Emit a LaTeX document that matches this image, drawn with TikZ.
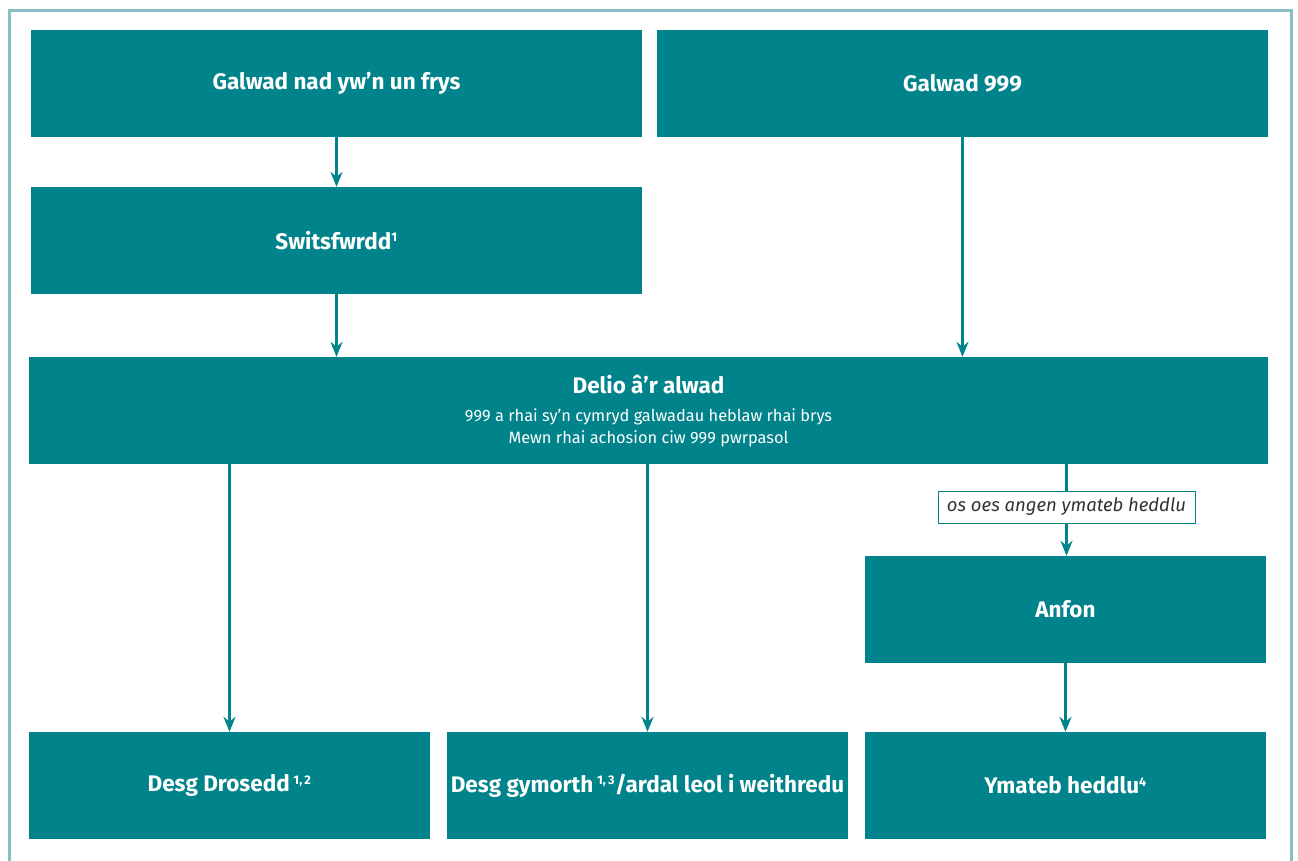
\documentclass[tikz,border=0pt]{standalone}
\usepackage{fontspec}
\setmainfont{Fira Sans}
\usetikzlibrary{arrows.meta}
\definecolor{teal1}{HTML}{00838A}
\definecolor{frame1}{HTML}{88BFC4}
\definecolor{lbltext}{HTML}{333333}
\tikzset{
  box/.style={fill=teal1, draw=none, text=white, minimum height=107pt, inner sep=0pt, font=\fontsize{22.5}{26}\selectfont\bfseries, align=center},
  conn/.style={draw=teal1, line width=2.4pt, -{Stealth[length=15pt,width=12pt,inset=5pt]}},
  plain/.style={draw=teal1, line width=2.4pt},
  lbl/.style={fill=white, draw=teal1, line width=1pt, text=lbltext, minimum width=257pt, minimum height=32pt, inner sep=0pt, font=\fontsize{18.5}{21}\selectfont\itshape}
}
\newcommand{\sps}[1]{\textsuperscript{\fontsize{12.5}{12.5}\selectfont #1}}
\newcommand{\subt}[1]{{\fontsize{16.4}{21}\selectfont\mdseries #1}}
\begin{document}
\begin{tikzpicture}[x=1pt,y=-1pt]
\useasboundingbox (0,0) rectangle (1298,860);
\draw[frame1, line width=3pt] (9.5,862) -- (9.5,10) -- (1291,10) -- (1291,862);
\node[box, minimum width=611pt] (a) at (336.5,83.5) {Galwad nad yw’n un frys};
\node[box, minimum width=611pt] (b) at (962.5,83.5) {Galwad 999};
\node[box, minimum width=611pt] (sw) at (336.5,240.5) {Switsfwrdd\sps{1}};
\node[box, minimum width=1239pt] (delio) at (648.5,410.5) {Delio â’r alwad\\[2pt]\subt{999 a rhai sy’n cymryd galwadau heblaw rhai brys}\\[-4pt]\subt{Mewn rhai achosion ciw 999 pwrpasol}};
\node[box, minimum width=401pt] (dd) at (229.5,785.5) {Desg Drosedd\,\sps{1,\,2}};
\node[box, minimum width=401pt] (dg) at (647.5,785.5) {Desg gymorth\,\sps{1,\,3}/ardal leol i weithredu};
\node[box, minimum width=401pt] (anfon) at (1065.5,609.5) {Anfon};
\node[box, minimum width=401pt] (ym) at (1065.5,785.5) {Ymateb heddlu\sps{4}};
\node[lbl] (lab) at (1066.5,507) {os oes angen ymateb heddlu};
\draw[conn] (a.south) -- (sw.north);
\draw[conn] (sw.south) -- (sw.south |- delio.north);
\draw[conn] (b.south) -- (b.south |- delio.north);
\draw[conn] (dd.north |- delio.south) -- (dd.north);
\draw[conn] (dg.north |- delio.south) -- (dg.north);
\draw[plain] (lab.north |- delio.south) -- (lab.north);
\draw[conn] (lab.south) -- (lab.south |- anfon.north);
\draw[conn] (anfon.south) -- (ym.north);
\end{tikzpicture}
\end{document}
